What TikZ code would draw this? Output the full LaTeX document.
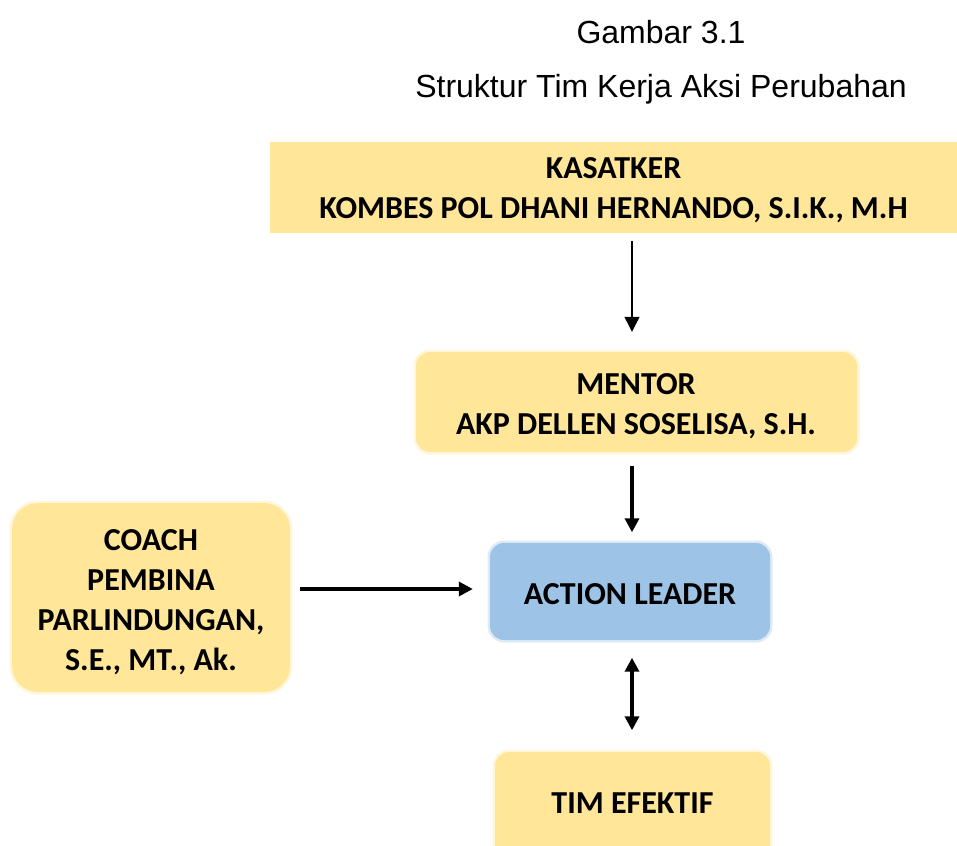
\documentclass[tikz,border=0pt]{standalone}
\usepackage{fontspec}
\setmainfont{Carlito}
\newfontfamily\arialfont{Liberation Sans}
\usetikzlibrary{arrows.meta}
\definecolor{boxyellow}{HTML}{FFE699}
\definecolor{boxblue}{HTML}{9DC3E6}
\tikzset{
  titletext/.style={font=\arialfont\fontsize{32}{36}\selectfont, inner sep=0pt},
  boxtext/.style={font=\bfseries\fontsize{32}{40}\selectfont, align=center, inner sep=0pt},
  softbox/.style={fill=#1, draw=#1, draw opacity=0.35, line width=5pt, rounded corners=14pt},
  arr/.style={-{Triangle[width=14pt,length=14pt]}, line width=3.4pt},
  thinarr/.style={-{Triangle[width=15pt,length=15pt]}, line width=1.3pt},
  dblarr/.style={{Triangle[width=14pt,length=14pt]}-{Triangle[width=14pt,length=14pt]}, line width=3.4pt},
}
\begin{document}
\begin{tikzpicture}[x=1pt,y=-1pt]
\useasboundingbox (0,0) rectangle (957,845);
% titles
\node[titletext] (t1) at (661,32) {Gambar 3.1};
\node[titletext] (t2) at (661,89) {Struktur Tim Kerja Aksi Perubahan};
% boxes
\fill[boxyellow] (270,142) rectangle (957,233);
\node[boxtext, minimum width=687pt, minimum height=91pt] (kas) at (613.5,190.5) {KASATKER\\KOMBES POL DHANI HERNANDO, S.I.K., M.H};
\draw[softbox=boxyellow] (416,352) rectangle (857,452);
\node[boxtext, minimum width=441pt, minimum height=100pt] (men) at (636,406) {MENTOR\\AKP DELLEN SOSELISA, S.H.};
\draw[softbox=boxyellow, rounded corners=26pt] (12,503) rectangle (290,692);
\node[boxtext, minimum width=278pt, minimum height=189pt] (coach) at (151,602) {COACH\\PEMBINA\\PARLINDUNGAN,\\S.E., MT., Ak.};
\draw[softbox=boxblue] (490,543) rectangle (770,640);
\node[boxtext, minimum width=280pt, minimum height=97pt] (act) at (630,594) {ACTION LEADER};
\draw[softbox=boxyellow] (495,752) rectangle (770,860);
\node[boxtext, minimum width=275pt, minimum height=102pt] (tim) at (632.5,803.5) {TIM EFEKTIF};
% arrows
\draw[thinarr, shorten <=5pt, shorten >=24pt] (kas.south -| 632,0) -- (men.north -| 632,0);
\draw[arr, shorten <=10pt, shorten >=13pt] (men.south -| 632,0) -- (act.north -| 632,0);
\draw[arr, shorten <=10pt, shorten >=17pt] (coach.east |- 0,589) -- (act.west |- 0,589);
\draw[dblarr, shorten <=15pt, shorten >=22pt] (act.south -| 632,0) -- (tim.north -| 632,0);
\end{tikzpicture}
\end{document}
